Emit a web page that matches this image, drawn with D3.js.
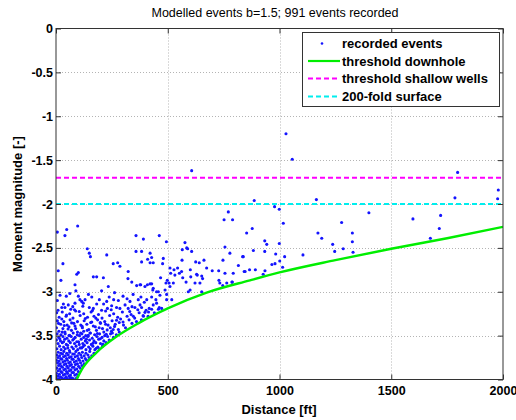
<!DOCTYPE html>
<html>
<head>
<meta charset="utf-8">
<script src="https://cdn.jsdelivr.net/npm/d3@7"></script>
<style>
  body { margin: 0; background: #fff; }
  svg text { font-family: "Liberation Sans", Arial, Helvetica, sans-serif; fill: #000; }
</style>
</head>
<body>
<svg id="chart" width="516" height="420"></svg>
<script>
// ---- axis ticks ----
const xTickValues = [0, 500, 1000, 1500, 2000];
const yTickValues = [0, -0.5, -1, -1.5, -2, -2.5, -3, -3.5, -4];

// ---- detection thresholds ----
const shallowWellsMag = -1.7;
const surfaceMag = -2.0;
const downholeDist = [92, 122, 182, 271, 368, 500, 674, 868, 1000, 1250, 1500, 1750, 2000];
const downholeMag  = [-4.00, -3.86, -3.69, -3.51, -3.36, -3.19, -3.01, -2.87, -2.78, -2.64, -2.51, -2.39, -2.26];

// ---- recorded events: [distance ft, moment magnitude] ----
const eventsFar = [
  [1029,-1.20],[1057,-1.49],[607,-1.62],[887,-1.96],[1165,-1.95],[978,-2.03],[999,-2.06],[1017,-2.22],
  [1400,-2.10],[1278,-2.21],[1597,-2.17],[1721,-2.13],[1715,-2.28],[1675,-2.39],[1797,-1.64],[1785,-1.93],
  [1979,-1.84],[1976,-1.94],[853,-2.33],[878,-2.28],[934,-2.42],[943,-2.46],[883,-2.53],[934,-2.54],
  [838,-2.60],[983,-2.57],[999,-2.45],[1023,-2.60],[1001,-2.65],[980,-2.68],[966,-2.69],[1014,-2.72],
  [1105,-2.58],[1172,-2.33],[1189,-2.39],[1238,-2.46],[1247,-2.54],[1285,-2.51],[1326,-2.33],[1326,-2.43],
  [1329,-2.55],[842,-2.77],[866,-2.75],[892,-2.75],[935,-2.76],[927,-2.80],[771,-2.09],[752,-2.18],[790,-2.18]
];

const eventsMid = [
  [6,-2.32],[48,-2.29],[97,-2.25],[40,-2.36],[358,-2.36],[391,-2.40],[462,-2.36],[494,-2.43],
  [577,-2.44],[565,-2.52],[589,-2.51],[756,-2.49],[778,-2.56],[747,-2.64],[835,-2.60],[140,-2.51],
  [149,-2.56],[154,-2.60],[227,-2.58],[358,-2.54],[383,-2.54],[421,-2.56],[31,-2.68],[256,-2.68],
  [276,-2.67],[286,-2.71],[383,-2.66],[410,-2.63],[421,-2.67],[435,-2.67],[477,-2.68],[480,-2.62],
  [428,-2.61],[564,-2.64],[585,-2.50],[607,-2.54],[625,-2.66],[641,-2.67],[662,-2.64],[699,-2.76],
  [728,-2.76],[756,-2.79],[789,-2.89],[816,-2.70],[846,-2.77],[10,-2.76],[100,-2.78],[93,-2.80],
  [323,-2.77],[22,-2.87],[85,-2.92],[167,-2.83],[182,-2.83],[212,-2.84],[234,-2.94],[322,-2.85],
  [339,-2.89],[361,-2.93],[376,-2.92],[398,-2.94],[421,-2.91],[435,-2.96],[458,-3.00],[89,-2.99],
  [204,-2.99],[498,-2.87],[506,-2.90],[510,-2.73],[513,-2.79],[528,-2.75],[544,-2.73],[552,-2.79],
  [532,-2.81],[562,-2.77],[567,-2.84],[601,-2.75],[629,-2.80],[622,-2.90],[652,-2.82],[674,-2.73],
  [729,-2.87],[746,-2.93],[764,-2.90],[793,-2.79],[632,-2.81],[603,-2.83],[582,-2.89],[656,-2.85],
  [644,-2.90],[733,-2.90],[600,-2.98],[652,-3.00],[787,-2.89],[468,-2.84],[492,-2.90],[525,-2.90],
  [510,-2.94],[488,-2.98],[379,-2.92],[409,-2.92],[428,-2.91],[433,-2.98],[450,-3.00],[592,-3.00],
  [380,-3.06],[406,-3.09],[428,-3.06],[447,-3.09],[465,-3.04],[495,-3.03],[495,-3.09],[518,-3.09],
  [383,-3.18],[403,-3.21],[428,-3.20],[458,-3.20],[473,-3.19],[391,-3.28]
];

const eventsUpper = [
  [6,-3.10],[33,-3.14],[40,-3.18],[55,-3.15],[66,-3.20],[75,-3.17],[100,-3.05],[107,-3.09],
  [115,-3.11],[122,-3.13],[130,-3.09],[149,-3.18],[167,-3.19],[182,-3.14],[194,-3.09],[204,-3.21],
  [227,-3.11],[238,-3.06],[249,-3.16],[271,-3.18],[279,-3.10],[286,-3.19],[309,-3.15],[323,-3.19],
  [331,-3.11],[353,-3.18],[368,-3.09],[376,-3.15],[417,-3.19],[435,-3.15],[462,-3.18],
  [18,-3.04],[62,-3.02],[145,-3.03],[262,-3.01],[300,-3.05],[345,-3.03],
  [46,-3.05],[85,-3.13],[160,-3.06],[213,-3.14],[258,-3.09],[318,-3.08],[395,-3.12],[26,-3.18],
  [120,-3.165],[230,-3.19],[340,-3.17],[450,-3.13]
];

const eventsSparse = [
  [3,-3.24],[28,-3.23],[61,-3.25],[88,-3.22],[124,-3.25],[157,-3.23],[190,-3.26],[222,-3.22],
  [258,-3.25],[297,-3.23],[336,-3.26],[372,-3.24],[414,-3.23],[440,-3.24],
  [14,-3.29],[45,-3.28],[76,-3.30],[108,-3.27],[141,-3.29],[170,-3.28],[206,-3.30],[240,-3.27],
  [276,-3.29],[318,-3.28],[352,-3.30],[390,-3.27],[412,-3.28],
  [6,-3.33],[35,-3.34],[63,-3.32],[96,-3.34],[126,-3.33],[155,-3.35],[186,-3.32],[218,-3.34],
  [251,-3.33],[283,-3.35],[327,-3.32],[360,-3.34],[382,-3.32],
  [21,-3.37],[50,-3.38],[80,-3.36],[111,-3.38],[138,-3.37],[167,-3.39],[199,-3.36],[233,-3.38],
  [265,-3.37],[302,-3.38],[340,-3.36],
  [2,-3.41],[31,-3.42],[58,-3.40],[88,-3.42],[118,-3.41],[147,-3.43],[176,-3.40],[208,-3.42],
  [243,-3.41],[279,-3.43],[311,-3.41],
  [13,-3.45],[40,-3.46],[69,-3.44],[96,-3.46],[124,-3.45],[152,-3.47],[181,-3.44],[214,-3.46],
  [248,-3.45],[283,-3.46],
  [9,-3.21],[47,-3.265],[83,-3.205],[131,-3.305],[163,-3.215],[198,-3.35],[247,-3.205],[289,-3.31],
  [330,-3.225],[26,-3.31],[70,-3.355],[104,-3.225],[117,-3.395],[178,-3.30],[229,-3.435],[262,-3.395],
  [300,-3.345],[346,-3.28],[366,-3.205],[398,-3.235],[54,-3.425],[85,-3.39],[140,-3.44],[193,-3.41],
  [222,-3.37],[256,-3.43],[271,-3.325],[37,-3.385],[11,-3.36],[160,-3.345]
];

const eventsDense = [
  [5,-3.48],[22,-3.49],[41,-3.48],[58,-3.50],[77,-3.47],[95,-3.49],[116,-3.48],[133,-3.50],
  [154,-3.47],[173,-3.49],[195,-3.48],[218,-3.50],[244,-3.48],[270,-3.49],
  [12,-3.52],[31,-3.51],[49,-3.53],[68,-3.51],[86,-3.52],[105,-3.50],[124,-3.52],[143,-3.51],
  [162,-3.53],[183,-3.51],[206,-3.52],[231,-3.51],[257,-3.52],
  [2,-3.55],[20,-3.56],[39,-3.54],[57,-3.56],[75,-3.55],[93,-3.57],[113,-3.54],[131,-3.56],
  [150,-3.55],[170,-3.56],[191,-3.54],[214,-3.56],[238,-3.55],
  [9,-3.59],[28,-3.58],[46,-3.60],[64,-3.58],[83,-3.59],[101,-3.57],[120,-3.59],[139,-3.58],
  [158,-3.60],[178,-3.58],[199,-3.59],[224,-3.58],
  [16,-3.62],[34,-3.63],[52,-3.61],[71,-3.63],[90,-3.62],[108,-3.64],[127,-3.61],[146,-3.63],
  [165,-3.62],[187,-3.63],[208,-3.62],
  [4,-3.65],[23,-3.66],[41,-3.65],[60,-3.67],[78,-3.65],[97,-3.66],[115,-3.64],[134,-3.66],
  [153,-3.65],[174,-3.66],[194,-3.65],
  [28,-3.46],[61,-3.495],[110,-3.47],[144,-3.495],[185,-3.475],[225,-3.485],[252,-3.47],[17,-3.535],
  [80,-3.535],[136,-3.54],[198,-3.535],[34,-3.57],[104,-3.60],[166,-3.585],[210,-3.60],[53,-3.64],
  [121,-3.625],[180,-3.645]
];

const eventsNear = [
  [10,-3.69],[22,-3.70],[35,-3.68],[48,-3.70],[62,-3.69],[75,-3.71],[89,-3.68],[103,-3.70],
  [118,-3.69],[134,-3.70],[151,-3.68],[170,-3.70],
  [3,-3.72],[16,-3.73],[29,-3.71],[42,-3.73],[55,-3.72],[68,-3.74],[82,-3.71],[96,-3.73],
  [111,-3.72],[126,-3.73],[143,-3.72],[160,-3.73],
  [9,-3.75],[21,-3.76],[34,-3.74],[47,-3.76],[60,-3.75],[72,-3.77],[86,-3.74],[100,-3.76],
  [115,-3.75],[131,-3.76],[148,-3.75],
  [2,-3.78],[14,-3.79],[26,-3.77],[39,-3.79],[51,-3.78],[64,-3.80],[77,-3.77],[91,-3.79],
  [105,-3.78],[121,-3.79],[137,-3.78],
  [7,-3.81],[19,-3.82],[31,-3.80],[44,-3.82],[57,-3.81],[69,-3.83],[82,-3.80],[96,-3.82],
  [110,-3.81],[126,-3.82],
  [12,-3.84],[24,-3.85],[37,-3.83],[49,-3.85],[62,-3.84],[74,-3.86],[87,-3.83],[101,-3.85],[116,-3.84],
  [4,-3.87],[17,-3.88],[29,-3.86],[42,-3.88],[55,-3.87],[67,-3.89],[80,-3.86],[93,-3.88],[108,-3.87],
  [10,-3.90],[22,-3.91],[35,-3.89],[47,-3.91],[60,-3.90],[72,-3.92],[85,-3.89],[100,-3.91],
  [2,-3.93],[15,-3.94],[27,-3.92],[40,-3.94],[52,-3.93],[65,-3.95],[78,-3.92],[92,-3.94],
  [8,-3.96],[20,-3.97],[33,-3.95],[45,-3.97],[58,-3.96],[70,-3.98],[84,-3.95],[97,-3.97],
  [3,-3.99],[14,-3.99],[26,-3.98],[38,-3.99],[51,-3.99],[63,-3.98],[76,-3.99],[89,-3.99]
];

const legendLabels = ["recorded events", "threshold downhole", "threshold shallow wells", "200-fold surface"];

// ---- layout ----
const svg = d3.select("#chart");
const plot = { left: 56, right: 503, top: 28.5, bottom: 379.5 };
const x = d3.scaleLinear().domain([0, 2000]).range([plot.left, plot.right]);
const y = d3.scaleLinear().domain([-4, 0]).range([plot.bottom, plot.top]);

const colors = { points: "#1414ff", downhole: "#00ee00", shallow: "#ff00ff", surface: "#00eeee" };

svg.append("rect").attr("width", 516).attr("height", 420).attr("fill", "#fff");

svg.append("defs").append("clipPath").attr("id", "plotClip")
  .append("rect").attr("x", plot.left).attr("y", plot.top)
  .attr("width", plot.right - plot.left).attr("height", plot.bottom - plot.top);

// dotted grid
const grid = svg.append("g").attr("stroke", "#b4b4b4").attr("stroke-width", 1).attr("stroke-dasharray", "1,2");
grid.selectAll("line.gx").data(xTickValues.slice(1, -1)).join("line")
  .attr("x1", d => Math.round(x(d)) + 0.5).attr("x2", d => Math.round(x(d)) + 0.5)
  .attr("y1", plot.top).attr("y2", plot.bottom);
grid.selectAll("line.gy").data(yTickValues.slice(1, -1)).join("line")
  .attr("y1", d => Math.round(y(d)) + 0.5).attr("y2", d => Math.round(y(d)) + 0.5)
  .attr("x1", plot.left).attr("x2", plot.right);

const layer = svg.append("g").attr("clip-path", "url(#plotClip)");

// recorded events
const allEvents = [].concat(eventsFar, eventsMid, eventsUpper, eventsSparse, eventsDense, eventsNear);
layer.append("g").selectAll("circle").data(allEvents).join("circle")
  .attr("cx", d => x(d[0])).attr("cy", d => y(d[1])).attr("r", 1.55)
  .attr("fill", colors.points);

// downhole threshold curve
const downhole = downholeDist.map((d, i) => [d, downholeMag[i]]);
layer.append("path").datum(downhole)
  .attr("fill", "none").attr("stroke", colors.downhole).attr("stroke-width", 2.4)
  .attr("d", d3.line().x(d => x(d[0])).y(d => y(d[1])).curve(d3.curveMonotoneX));

// horizontal thresholds
layer.append("line").attr("x1", plot.left).attr("x2", plot.right)
  .attr("y1", y(shallowWellsMag)).attr("y2", y(shallowWellsMag))
  .attr("stroke", colors.shallow).attr("stroke-width", 2).attr("stroke-dasharray", "5,3");
layer.append("line").attr("x1", plot.left).attr("x2", plot.right)
  .attr("y1", y(surfaceMag)).attr("y2", y(surfaceMag))
  .attr("stroke", colors.surface).attr("stroke-width", 2).attr("stroke-dasharray", "5,3");

// axes with inward ticks
const fmt = d => String(d);
const tickFont = g => g.selectAll("text").attr("font-size", "12.5px").attr("font-weight", "bold")
  .attr("font-family", "Liberation Sans, Arial, sans-serif").attr("fill", "#000");
const tidy = g => { g.select(".domain").remove(); g.selectAll(".tick line").attr("stroke", "#333"); };

svg.append("g").attr("transform", `translate(0,${plot.bottom})`)
  .call(d3.axisBottom(x).tickValues(xTickValues).tickFormat(fmt).tickSizeInner(-5).tickSizeOuter(0).tickPadding(7))
  .call(tidy).call(tickFont);
svg.append("g").attr("transform", `translate(0,${plot.top})`)
  .call(d3.axisTop(x).tickValues(xTickValues).tickFormat("").tickSizeInner(-5).tickSizeOuter(0))
  .call(tidy);
svg.append("g").attr("transform", `translate(${plot.left},0)`)
  .call(d3.axisLeft(y).tickValues(yTickValues).tickFormat(fmt).tickSizeInner(-5).tickSizeOuter(0).tickPadding(3))
  .call(tidy).call(tickFont);
svg.append("g").attr("transform", `translate(${plot.right},0)`)
  .call(d3.axisRight(y).tickValues(yTickValues).tickFormat("").tickSizeInner(-5).tickSizeOuter(0))
  .call(tidy);

// frame
svg.append("rect").attr("x", plot.left).attr("y", plot.top)
  .attr("width", plot.right - plot.left).attr("height", plot.bottom - plot.top)
  .attr("fill", "none").attr("stroke", "#333").attr("stroke-width", 1);

// labels
svg.append("text").attr("x", 275).attr("y", 17).attr("text-anchor", "middle")
  .attr("font-size", "12.5px").text("Modelled events b=1.5; 991 events recorded");
svg.append("text").attr("x", 279).attr("y", 413.5).attr("text-anchor", "middle")
  .attr("font-size", "13px").attr("font-weight", "bold").text("Distance [ft]");
svg.append("text").attr("transform", `translate(22,${(plot.top + plot.bottom) / 2}) rotate(-90)`)
  .attr("text-anchor", "middle").attr("font-size", "13px").attr("font-weight", "bold")
  .text("Moment magnitude [-]");

// legend
const lg = svg.append("g");
lg.append("rect").attr("x", 302.5).attr("y", 32.5).attr("width", 197).attr("height", 74)
  .attr("fill", "#fff").attr("stroke", "#333").attr("stroke-width", 1);
const rowY = [43.5, 61, 78.5, 96.5];
lg.append("circle").attr("cx", 322).attr("cy", rowY[0]).attr("r", 1.3).attr("fill", colors.points);
lg.append("line").attr("x1", 308).attr("x2", 340).attr("y1", rowY[1]).attr("y2", rowY[1])
  .attr("stroke", colors.downhole).attr("stroke-width", 2.2);
lg.append("line").attr("x1", 308).attr("x2", 340).attr("y1", rowY[2]).attr("y2", rowY[2])
  .attr("stroke", colors.shallow).attr("stroke-width", 2).attr("stroke-dasharray", "5,3");
lg.append("line").attr("x1", 308).attr("x2", 340).attr("y1", rowY[3]).attr("y2", rowY[3])
  .attr("stroke", colors.surface).attr("stroke-width", 2).attr("stroke-dasharray", "5,3");
lg.selectAll("text.lab").data(legendLabels).join("text")
  .attr("x", 342).attr("y", (d, i) => rowY[i]).attr("dy", "0.36em")
  .attr("font-size", "13px").attr("font-weight", "bold").text(d => d);
</script>
</body>
</html>
